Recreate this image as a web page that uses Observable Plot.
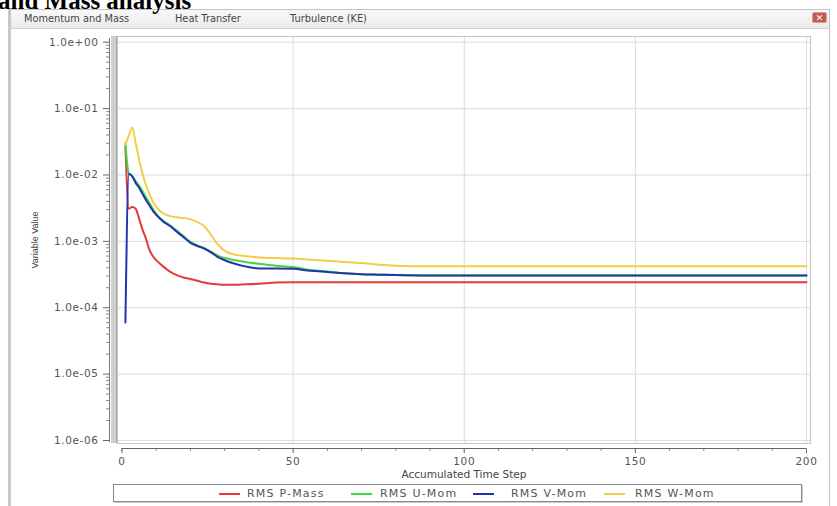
<!DOCTYPE html>
<html>
<head>
<meta charset="utf-8">
<script src="https://cdn.jsdelivr.net/npm/d3@7"></script>
<script src="https://cdn.jsdelivr.net/npm/@observablehq/plot@0.6"></script>
<style>
  html, body { margin: 0; padding: 0; background: #fff; }
  #wrap { position: relative; width: 837px; height: 506px; overflow: hidden; font-family: "DejaVu Sans", sans-serif; color: #555; }
  #title { position: absolute; left: -2px; top: -12px; font-family: "Liberation Serif", serif; font-weight: bold; font-size: 25px; line-height: 25px; color: #000; z-index: 5; white-space: nowrap; }
  #win { position: absolute; left: 8px; top: 9px; width: 822px; height: 500px; border: 1px solid #c4c4c4; border-left: 3px solid #c8c8c8; background: #fff; box-sizing: border-box; }
  #tabs { position: absolute; left: 11px; top: 10px; width: 818px; height: 18px; background: linear-gradient(#f8f8f8, #ebebeb); border-bottom: 1px solid #cfcfcf; }
  .tab { position: absolute; top: 3px; font-size: 9.8px; color: #444; white-space: nowrap; }
  #close { position: absolute; left: 812px; top: 12px; width: 15px; height: 11px; background: #c25a55; border: 1px solid #d89a97; border-radius: 2px; color: #fff; font-size: 9px; line-height: 11px; text-align: center; box-sizing: border-box; }
  #plotbox { position: absolute; left: 0; top: 0; }
  #plotbox svg text { letter-spacing: 0.6px; }
  #lbar { position: absolute; left: 111px; top: 36px; width: 6px; height: 407px; background: #cfcfcf; border-right: 1px solid #a8a8a8; box-sizing: border-box; }
  #spine { position: absolute; left: 109px; top: 38px; width: 1px; height: 404px; background: #777; }
  #ylab { position: absolute; left: 35px; top: 240px; transform: translate(-50%, -50%) rotate(-90deg); font-family: "Liberation Sans", sans-serif; font-size: 9px; color: #444; white-space: nowrap; }
  #xlab { position: absolute; left: 464px; top: 474px; transform: translate(-50%, -50%); font-size: 10.5px; color: #444; white-space: nowrap; }
  #legend { position: absolute; left: 113px; top: 484px; width: 689px; height: 18px; border: 1px solid #8a8a8a; box-shadow: 1px 1px 0 #ccc; background: #fff; box-sizing: border-box; }
  .li { position: absolute; top: 2px; font-size: 11px; letter-spacing: 1.2px; color: #555; white-space: nowrap; }
  .sw { position: absolute; top: 8px; height: 2px; }
</style>
</head>
<body>
<div id="wrap">
  <div id="win"></div>
  <div id="tabs"></div>
  <div id="title">and Mass analysis</div>
  <div id="close">✕</div>
  <div id="lbar"></div>
  <div id="spine"></div>
  <div id="plotbox"></div>
  <div id="ylab">Variable Value</div>
  <div id="xlab">Accumulated Time Step</div>
  <div id="legend"></div>
</div>
<script>
// ---- data ----
const tabNames = ["Momentum and Mass", "Heat Transfer", "Turbulence (KE)"];
const seriesNames = ["RMS P-Mass", "RMS U-Mom", "RMS V-Mom", "RMS W-Mom"];
const seriesColors = ["#e23b3b", "#43d843", "#2233b0", "#f4cd48"];

const steps = [1,2,3,4,5,6,7,8,9,10,12,14,16,18,20,22,24,26,28,30,33,36,40,45,50,55,60,65,70,75,80,90,100,120,140,160,180,200];

const pMass = [2.7e-2,3.1e-3,3.3e-3,3.1e-3,2.2e-3,1.5e-3,1.1e-3,7.5e-4,6.0e-4,5.2e-4,4.2e-4,3.5e-4,3.1e-4,2.85e-4,2.7e-4,2.55e-4,2.4e-4,2.3e-4,2.25e-4,2.22e-4,2.22e-4,2.25e-4,2.3e-4,2.4e-4,2.43e-4,2.43e-4,2.43e-4,2.43e-4,2.43e-4,2.43e-4,2.43e-4,2.43e-4,2.43e-4,2.43e-4,2.43e-4,2.43e-4,2.43e-4,2.43e-4];

const uMom = [3.0e-2,1.04e-2,9.6e-3,8.0e-3,6.9e-3,5.7e-3,4.6e-3,3.8e-3,3.1e-3,2.6e-3,2.05e-3,1.75e-3,1.45e-3,1.2e-3,9.8e-4,8.7e-4,7.9e-4,7.0e-4,6.1e-4,5.6e-4,5.2e-4,4.9e-4,4.6e-4,4.3e-4,4.1e-4,3.7e-4,3.5e-4,3.3e-4,3.2e-4,3.15e-4,3.1e-4,3.05e-4,3.05e-4,3.05e-4,3.05e-4,3.05e-4,3.05e-4,3.05e-4];

const vMom = [6.0e-5,1.04e-2,9.5e-3,7.6e-3,6.4e-3,5.2e-3,4.2e-3,3.5e-3,2.9e-3,2.5e-3,2.0e-3,1.7e-3,1.4e-3,1.15e-3,9.5e-4,8.5e-4,7.8e-4,6.8e-4,5.8e-4,5.2e-4,4.6e-4,4.2e-4,3.9e-4,3.9e-4,3.85e-4,3.6e-4,3.45e-4,3.3e-4,3.2e-4,3.15e-4,3.1e-4,3.05e-4,3.05e-4,3.05e-4,3.05e-4,3.05e-4,3.05e-4,3.05e-4];

const wMom = [2.9e-2,3.9e-2,5.2e-2,3.0e-2,1.7e-2,1.05e-2,7.0e-3,5.2e-3,4.0e-3,3.3e-3,2.65e-3,2.4e-3,2.3e-3,2.25e-3,2.15e-3,1.95e-3,1.7e-3,1.25e-3,9.0e-4,7.2e-4,6.3e-4,6.0e-4,5.7e-4,5.6e-4,5.5e-4,5.3e-4,5.1e-4,4.9e-4,4.7e-4,4.45e-4,4.3e-4,4.2e-4,4.2e-4,4.2e-4,4.2e-4,4.2e-4,4.2e-4,4.2e-4];

const xDomain = [0, 200];
const yDomain = [1e-6, 1];
const xMajor = [0, 50, 100, 150, 200];
const xMinor = [0,10,20,30,40,50,60,70,80,90,100,110,120,130,140,150,160,170,180,190,200];
const xGrid = [50, 100, 150, 200];
const yMajor = [1e0, 1e-1, 1e-2, 1e-3, 1e-4, 1e-5, 1e-6];
const yMinorMult = [2, 3, 4, 5, 6, 7, 8, 9];

// ---- build ----
const seriesValues = [pMass, uMom, vMom, wMom];
const rows = [];
seriesNames.forEach((name, i) => {
  steps.forEach((s, j) => rows.push({series: name, step: s, value: seriesValues[i][j]}));
});
const yMinor = [];
yMajor.slice(1).forEach(d => yMinorMult.forEach(m => yMinor.push(d * m)));

const fmt = d => {
  const e = Math.round(Math.log10(d));
  return "1.0e" + (e < 0 ? "-" : "+") + String(Math.abs(e)).padStart(2, "0");
};

const chart = Plot.plot({
  width: 837,
  height: 506,
  marginLeft: 117,
  marginRight: 27,
  marginTop: 36,
  marginBottom: 63,
  style: {fontFamily: "DejaVu Sans, sans-serif", fontSize: "10.5px", color: "#555", background: "transparent", overflow: "visible"},
  x: {domain: xDomain, range: [121.5, 806]},
  y: {type: "log", domain: yDomain, range: [440, 41.7]},
  color: {domain: seriesNames, range: seriesColors},
  marks: [
    Plot.gridY({ticks: yMajor, stroke: "#dcdcdc", strokeOpacity: 1}),
    Plot.gridX({ticks: xGrid, stroke: "#dcdcdc", strokeOpacity: 1}),
    Plot.frame({stroke: "#c4c4c4"}),
    Plot.axisY({ticks: yMajor, tickFormat: fmt, tickSize: 6, tickPadding: 5, dx: -8, label: null, stroke: "#666"}),
    Plot.axisY({ticks: yMinor, tickFormat: () => "", tickSize: 3, dx: -8, label: null, stroke: "#888"}),
    Plot.axisX({ticks: xMajor, tickSize: 5, tickPadding: 4, dy: 5, label: null, stroke: "#666"}),
    Plot.axisX({ticks: xMinor, tickFormat: () => "", tickSize: 3, dy: 5, label: null, stroke: "#888"}),
    Plot.ruleY([yDomain[0]], {x1: xDomain[0], x2: xDomain[1], dy: 8, stroke: "#666"}),
    Plot.line(rows, {x: "step", y: "value", z: "series", stroke: "series", strokeWidth: 2, curve: "monotone-x"})
  ]
});
document.getElementById("plotbox").appendChild(chart);

// tabs
const tabLeft = [24, 175, 290];
const tabs = document.getElementById("tabs");
tabNames.forEach((t, i) => {
  const d = document.createElement("div");
  d.className = "tab";
  d.style.left = (tabLeft[i] - 11) + "px";
  d.textContent = t;
  tabs.appendChild(d);
});

// legend
const swLeft = [219, 351, 473, 604];
const txLeft = [247, 380, 511, 635];
const leg = document.getElementById("legend");
seriesNames.forEach((n, i) => {
  const s = document.createElement("div");
  s.className = "sw";
  s.style.left = (swLeft[i] - 114) + "px";
  s.style.width = "21px";
  s.style.background = seriesColors[i];
  leg.appendChild(s);
  const t = document.createElement("div");
  t.className = "li";
  t.style.left = (txLeft[i] - 114) + "px";
  t.textContent = n;
  leg.appendChild(t);
});
</script>
</body>
</html>
